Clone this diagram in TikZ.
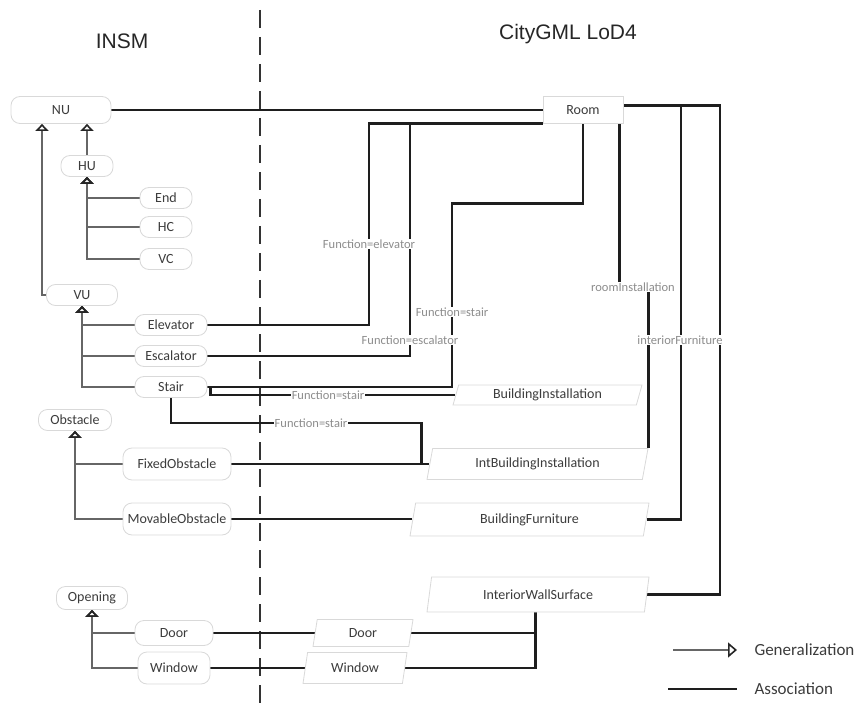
\documentclass[tikz,border=0pt]{standalone}
\usepackage{fontspec}
\setmainfont{Carlito}
\newfontfamily\titlefont{Liberation Sans}
\usepackage{tikz}
\usetikzlibrary{arrows.meta,positioning,calc,shapes.geometric,backgrounds}
\definecolor{ink}     {HTML}{3C3C3C}
\definecolor{edge}    {HTML}{D9D9D9}
\definecolor{wire}    {HTML}{1E1E1E}
\definecolor{genline} {HTML}{666666}
\definecolor{labtext} {HTML}{8C8C8C}

\begin{document}
\begin{tikzpicture}[x=1pt, y=-1pt,
  insm/.style={rectangle, rounded corners=9pt, draw=edge, fill=white, line width=0.8pt,
               inner sep=0pt, text=ink, font=\fontsize{14}{16}\selectfont},
  room/.style={rectangle, draw=edge, fill=white, line width=0.8pt, inner sep=0pt,
               text=ink, font=\fontsize{14}{16}\selectfont},
  city/.style={trapezium, trapezium left angle=65, trapezium right angle=115,
               trapezium stretches body, draw=edge, fill=white, line width=0.8pt,
               inner sep=0pt, text=ink, font=\fontsize{14}{16}\selectfont},
  lab/.style={fill=white, inner sep=0.6pt, text=labtext, font=\fontsize{12.5}{14}\selectfont},
  title/.style={text=black!85, font=\titlefont\fontsize{21}{24}\selectfont},
  legtext/.style={anchor=west, text=ink, font=\fontsize{17}{20}\selectfont},
  assoc/.style={wire, line width=2.8pt},
  gen/.style={genline, line width=1.3pt,
              -{Triangle[open, length=7pt, width=13pt, line width=1.6pt, color=black!85]}},
  divider/.style={black!80, line width=2.6pt, dash pattern=on 18pt off 9pt}]
 \useasboundingbox (0,0) rectangle (861,708);

 % headings
 \node[title] (tINSM) at (122,41) {INSM};
 \node[title] (tCity) at (568,34) {CityGML LoD4};

 % INSM classes
 \foreach \n/\x/\y/\w/\h in {NU/61/110/100/27, HU/87/166/52/21, End/166/198/52/21,
     HC/166/227/52/21, VC/166/259/52/21, VU/82/295/71/21, Elevator/171/325/72/21,
     Escalator/171/356/72/21, Stair/171/387/72/21, Obstacle/75/420/73/21,
     FixedObstacle/177/464/108/32, MovableObstacle/177/519/108/32,
     Opening/92/598/71/23, Door/174/633/78/25, Window/174/668/72/32}
   \node[insm, minimum width=\w, minimum height=\h] (\n) at (\x,\y) {\n};

 % CityGML classes
 \node[room, minimum width=80, minimum height=27] (Room) at (583,110) {Room};
 \foreach \n/\t/\x/\y/\w/\h in {BI/BuildingInstallation/547.5/395/189/20,
     IBI/IntBuildingInstallation/537.5/464/221/31, BF/BuildingFurniture/529.5/519.5/239/33,
     IWS/InteriorWallSurface/538/594.5/222/35, DoorC/Door/363/633/100/27,
     WindowC/Window/355/668/104/31}
   \node[city, minimum width=\w, minimum height=\h] (\n) at (\x,\y) {\t};

 % role labels
 \node[lab] (lElev)     at (369,244) {Function=elevator};
 \node[lab] (lEsc)      at (410,340) {Function=escalator};
 \node[lab] (lStairR)   at (452,312) {Function=stair};
 \node[lab] (lStairB)   at (328,395) {Function=stair};
 \node[lab] (lStairF)   at (311,423) {Function=stair};
 \node[lab] (lRoomInst) at (633,287) {roomInstallation};
 \node[lab] (lFurn)     at (680,340) {interiorFurniture};

 % legend
 \coordinate (g0) at (673,650);
 \coordinate (g1) at (737,650);
 \coordinate (a0) at (668,689);
 \coordinate (a1) at (737,689);
 \node[legtext] (legGen)   at (751,650) {Generalization};
 \node[legtext] (legAssoc) at (751,689) {Association};

 \coordinate (dTop) at (260,10);
 \coordinate (dBot) at (260,708);
 \coordinate (rOut) at ([yshift=4.5pt]Room.east);
 \coordinate (jWall) at ($(IWS.bottom left corner)!0.5!(IWS.bottom right corner)$);

 \begin{scope}[on background layer]
  \draw[divider] (dTop) -- (dBot);
  % generalization
  \draw[gen] (HU.north) -- (HU.north |- NU.south);
  \draw[gen] (VU.west) -| ($(NU.south)+(-19,0)$);
  \foreach \c in {End,HC,VC} \draw[gen] (\c.west) -| (HU.south);
  \foreach \c in {Elevator,Escalator,Stair} \draw[gen] (\c.west) -| (VU.south);
  \foreach \c in {FixedObstacle,MovableObstacle} \draw[gen] (\c.west) -| (Obstacle.south);
  \foreach \c in {Door,Window} \draw[gen] (\c.west) -| (Opening.south);
  % associations
  \draw[assoc] (NU.east) -- (Room.west);
  \draw[assoc] (Elevator.east) -| (lElev.center) |- (Room.south west);
  \draw[assoc] (Escalator.east) -| (lEsc.center) -- (lEsc.center |- Room.south west);
  \draw[assoc] (Room.south) -- ++(0,80) -| (lStairR.center) |- (Stair.east);
  \draw[assoc] (Stair.east) -- ++(3,0) |- (BI.west);
  \draw[assoc] (Stair.south) |- (lStairF.center) -| ($(IBI.west)+(-8,0)$);
  \draw[assoc] (FixedObstacle.east) -- (FixedObstacle.east -| IBI.west);
  \draw[assoc] (MovableObstacle.east) -- (MovableObstacle.east -| BF.west);
  \draw[assoc] ([xshift=-4pt]Room.south east) |- (lRoomInst.center) -| (IBI.top right corner);
  \draw[assoc] (rOut) -| (720,0 |- IWS.east) -- (IWS.east);
  \draw[assoc] (rOut -| 681,0) |- (BF.east);
  \draw[assoc] (Door.east) -- (Door.east -| DoorC.west);
  \draw[assoc] (Window.east) -- (Window.east -| WindowC.west);
  \draw[assoc] (DoorC.east) -- (DoorC.east -| jWall);
  \draw[assoc] (WindowC.east) -| (jWall);
  % legend lines
  \draw[gen, -{Triangle[open, length=9pt, width=15pt, line width=1.6pt, color=black!85]}] (g0) -- (g1);
  \draw[assoc] (a0) -- (a1);
 \end{scope}
\end{tikzpicture}
\end{document}
